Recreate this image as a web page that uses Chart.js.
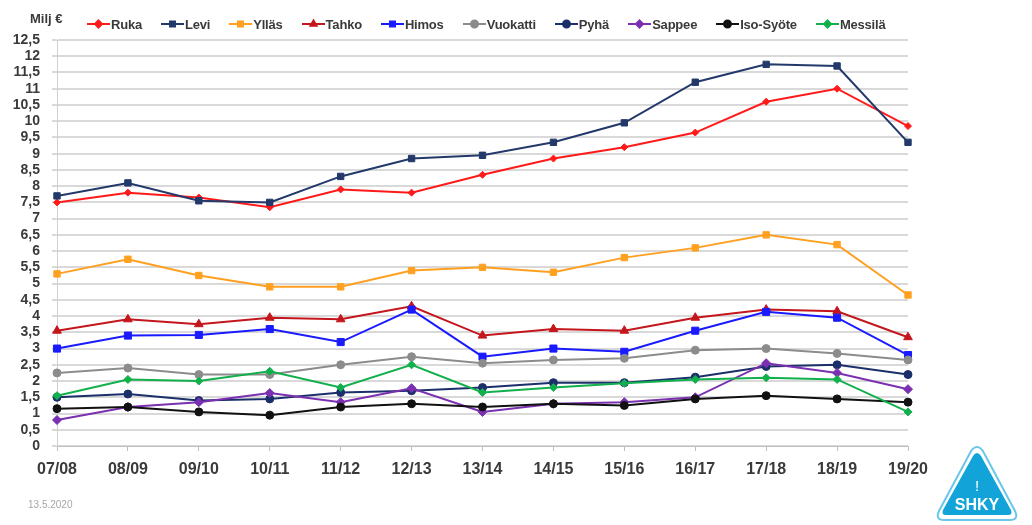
<!DOCTYPE html>
<html>
<head>
<meta charset="utf-8">
<script src="https://cdn.jsdelivr.net/npm/chart.js@4/dist/chart.umd.min.js"></script>
<style>
    body { margin: 0; background: #fff; }
    .wrap { position: relative; width: 1032px; height: 525px; overflow: hidden; font-family: "Liberation Sans", Arial, sans-serif; }
    #chart { position: absolute; left: 0; top: 0; }
    .unit { position: absolute; left: 30px; top: 11px; font-size: 13px; font-weight: bold; color: #3a3a3a; }
    .legend { position: absolute; left: 87px; top: 16px; display: flex; gap: 19px; font-size: 13px; font-weight: bold; color: #3a3a3a; letter-spacing: -0.2px; }
    .legend .item { display: flex; align-items: center; gap: 1px; height: 16px; }
    .date { position: absolute; left: 28px; top: 499px; font-size: 10px; color: #a6a6a6; }
    .logo { position: absolute; left: 934px; top: 444px; }
</style>
</head>
<body>
<div class="wrap">
    <canvas id="chart" width="1032" height="525"></canvas>
    <div class="unit">Milj €</div>
    <div class="legend" id="legend"></div>
    <div class="date">13.5.2020</div>
    <svg class="logo" width="86" height="80" viewBox="0 0 86 80">
        <path d="M43 3 Q47 3 50 9 L81 67 Q85 76 76 76 L10 76 Q1 76 5 67 L36 9 Q39 3 43 3 Z" fill="#ffffff" stroke="#6cc6ea" stroke-width="2"/>
        <path d="M43 9 Q45 9 47 12 L77 66 Q79 71 74 71 L12 71 Q7 71 9 66 L39 12 Q41 9 43 9 Z" fill="#12a4d9"/>
        <text x="43" y="47" text-anchor="middle" font-family="Liberation Sans Narrow, Liberation Sans, Arial" font-size="15" fill="#fff">!</text>
        <text x="43" y="66" text-anchor="middle" font-family="Liberation Sans Narrow, Liberation Sans, Arial" font-weight="bold" font-size="16" fill="#fff">SHKY</text>
    </svg>
</div>
<script>
const seasons = ['07/08', '08/09', '09/10', '10/11', '11/12', '12/13', '13/14', '14/15', '15/16', '16/17', '17/18', '18/19', '19/20'];
const yTicks = [0, 0.5, 1, 1.5, 2, 2.5, 3, 3.5, 4, 4.5, 5, 5.5, 6, 6.5, 7, 7.5, 8, 8.5, 9, 9.5, 10, 10.5, 11, 11.5, 12, 12.5];

const ruka = [7.5, 7.8, 7.65, 7.35, 7.9, 7.8, 8.35, 8.85, 9.2, 9.65, 10.6, 11.0, 9.85];
const levi = [7.7, 8.1, 7.55, 7.5, 8.3, 8.85, 8.95, 9.35, 9.95, 11.2, 11.75, 11.7, 9.35];
const yllas = [5.3, 5.75, 5.25, 4.9, 4.9, 5.4, 5.5, 5.35, 5.8, 6.1, 6.5, 6.2, 4.65];
const tahko = [3.55, 3.9, 3.75, 3.95, 3.9, 4.3, 3.4, 3.6, 3.55, 3.95, 4.2, 4.15, 3.35];
const himos = [3.0, 3.4, 3.42, 3.6, 3.2, 4.2, 2.75, 3.0, 2.9, 3.55, 4.13, 3.95, 2.8];
const vuokatti = [2.25, 2.4, 2.2, 2.2, 2.5, 2.75, 2.55, 2.65, 2.7, 2.95, 3.0, 2.85, 2.65];
const pyha = [1.5, 1.6, 1.4, 1.45, 1.65, 1.7, 1.8, 1.95, 1.95, 2.12, 2.45, 2.5, 2.2];
const sappee = [0.8, 1.2, 1.35, 1.63, 1.35, 1.78, 1.05, 1.3, 1.35, 1.5, 2.55, 2.25, 1.75];
const isoSyote = [1.15, 1.2, 1.05, 0.95, 1.2, 1.3, 1.2, 1.3, 1.25, 1.45, 1.55, 1.45, 1.35];
const messila = [1.55, 2.05, 2.0, 2.3, 1.8, 2.5, 1.65, 1.8, 1.93, 2.05, 2.1, 2.05, 1.05];

const series = [
    { label: 'Ruka', data: ruka, color: '#ff1a1a', style: 'rectRot', r: 3.5 },
    { label: 'Levi', data: levi, color: '#22396a', style: 'rect', r: 4.5 },
    { label: 'Ylläs', data: yllas, color: '#ffa020', style: 'rect', r: 4.5 },
    { label: 'Tahko', data: tahko, color: '#c4161c', style: 'triangle', r: 5 },
    { label: 'Himos', data: himos, color: '#1a1aff', style: 'rect', r: 5 },
    { label: 'Vuokatti', data: vuokatti, color: '#8c8c8c', style: 'circle', r: 4 },
    { label: 'Pyhä', data: pyha, color: '#1b2f6a', style: 'circle', r: 4 },
    { label: 'Sappee', data: sappee, color: '#7a30b0', style: 'rectRot', r: 4.5 },
    { label: 'Iso-Syöte', data: isoSyote, color: '#111111', style: 'circle', r: 4 },
    { label: 'Messilä', data: messila, color: '#12b04c', style: 'rectRot', r: 4 }
];

// HTML-legenda: viiva + merkki + nimi
const legend = document.getElementById('legend');
series.forEach(s => {
    const item = document.createElement('div');
    item.className = 'item';
    const c = document.createElement('canvas');
    c.width = 23; c.height = 12;
    const ctx = c.getContext('2d');
    ctx.strokeStyle = s.color;
    ctx.lineWidth = 2;
    ctx.beginPath(); ctx.moveTo(0, 6); ctx.lineTo(23, 6); ctx.stroke();
    if (Chart.helpers && Chart.helpers.drawPoint) {
        ctx.fillStyle = s.color;
        Chart.helpers.drawPoint(ctx, { pointStyle: s.style, radius: 3.5, borderWidth: 1 }, 11.5, 6);
    }
    const span = document.createElement('span');
    span.textContent = s.label;
    item.appendChild(c);
    item.appendChild(span);
    legend.appendChild(item);
});

Chart.defaults.font.family = '"Liberation Sans", Arial, sans-serif';
Chart.defaults.color = '#3a3a3a';

new Chart(document.getElementById('chart'), {
    type: 'line',
    data: {
        labels: seasons,
        datasets: series.map((s, i) => ({
            label: s.label,
            data: s.data,
            borderColor: s.color,
            backgroundColor: s.color,
            borderWidth: 2,
            pointStyle: s.style,
            pointRadius: s.r,
            pointBorderWidth: 1,
            tension: 0,
            order: series.length - i
        }))
    },
    options: {
        responsive: false,
        animation: false,
        layout: { padding: { top: 40, right: 124, bottom: 0, left: 0 } },
        plugins: {
            legend: { display: false },
            tooltip: { enabled: false }
        },
        scales: {
            x: {
                offset: false,
                grid: { drawOnChartArea: false, drawTicks: true, tickLength: 5, color: '#bfbfbf' },
                border: { display: true, color: '#bfbfbf', width: 1 },
                ticks: { font: { size: 16, weight: 'bold' }, padding: 9, maxRotation: 0, autoSkip: false },
                afterFit: scale => { scale.height = 79; }
            },
            y: {
                min: 0,
                max: 12.5,
                afterBuildTicks: scale => { scale.ticks = yTicks.map(v => ({ value: v })); },
                grid: { color: '#d9d9d9', lineWidth: 2, tickLength: 5 },
                border: { display: true, color: '#d0d0d0', width: 1 },
                ticks: {
                    font: { size: 14, weight: 'bold' },
                    padding: 12,
                    autoSkip: false,
                    callback: v => String(v).replace('.', ',')
                },
                afterFit: scale => { scale.width = 57; }
            }
        }
    }
});
</script>
</body>
</html>
